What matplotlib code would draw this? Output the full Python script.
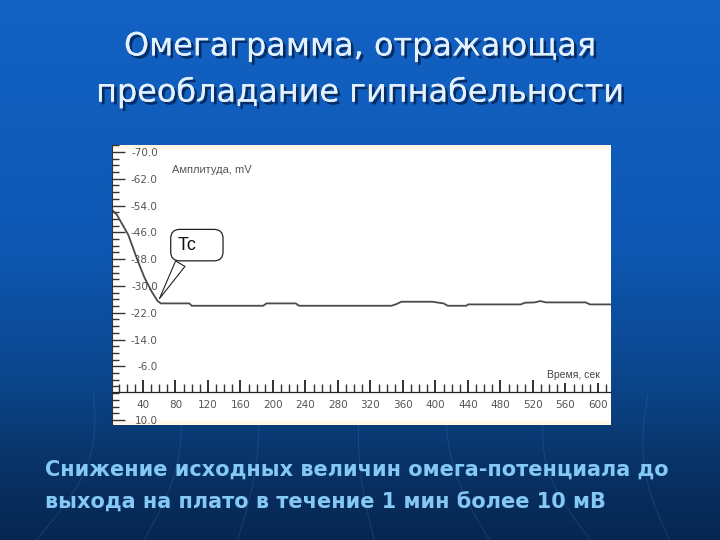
import numpy as np
import matplotlib
matplotlib.use("Agg")
import matplotlib.pyplot as plt
from matplotlib.ticker import MultipleLocator, FormatStrFormatter
import matplotlib.patheffects as pe

# ---- data ----
time_s = [2, 8, 22, 34, 42, 51, 58, 62, 97, 100, 188, 192, 228, 232, 346, 352, 358,
          396, 410, 415, 438, 440, 505, 510, 522, 529, 536, 585, 590, 617]
amp_mv = [-52.7, -51.2, -45.2, -37.2, -32.4, -28.2, -25.5, -24.8, -24.8, -24.1, -24.1,
          -24.8, -24.8, -24.1, -24.1, -24.6, -25.3, -25.3, -24.8, -24.1, -24.1, -24.5,
          -24.5, -25.0, -25.1, -25.5, -25.1, -25.1, -24.5, -24.5]
tc_point = (58.5, -25.5)
y_major = [-70, -62, -54, -46, -38, -30, -22, -14, -6, 10]
x_major = [40, 80, 120, 160, 200, 240, 280, 320, 360, 400, 440, 480, 520, 560, 600]

title = "Омегаграмма, отражающая\nпреобладание гипнабельности"
caption1 = "Снижение исходных величин омега-потенциала до"
caption2 = "выхода на плато в течение 1 мин более 10 мВ"

W, H = 720, 540
fig = plt.figure(figsize=(7.2, 5.4), dpi=100)

# ---- slide background ----
bg = fig.add_axes([0, 0, 1, 1])
bg.set_axis_off()
stops = np.array([[18, 98, 196], [14, 88, 180], [11, 70, 140], [9, 52, 105], [7, 38, 80]]) / 255
pos = np.array([0.0, 0.45, 0.7, 0.85, 1.0])
yy = np.linspace(0, 1, 300)
grad = np.stack([np.interp(yy, pos, stops[:, c]) for c in range(3)], axis=1)
img = np.repeat(grad[:, None, :], 10, axis=1)
bg.imshow(img, aspect='auto', extent=[0, 1, 0, 1], origin='upper')
t = np.linspace(0, 1, 50)
for x0, x1, bend in [(0.05, 0.13, 0.03), (0.2, 0.25, 0.02), (0.33, 0.36, 0.01), (0.52, 0.5, -0.01),
                     (0.68, 0.62, -0.02), (0.82, 0.76, -0.03), (0.93, 0.9, -0.02)]:
    xs = x0 + (x1 - x0) * t + bend * np.sin(np.pi * t)
    bg.plot(xs, 0.27 * t, color=(0.3, 0.5, 0.8), alpha=0.22, lw=0.8)
bg.set_xlim(0, 1)
bg.set_ylim(0, 1)

# title
fig.text(0.5, 1 - 70 / H, title, ha='center', va='center', color='#e4f1ff',
         fontsize=23, family='DejaVu Sans', linespacing=1.55,
         path_effects=[pe.withSimplePatchShadow(offset=(2, -2), shadow_rgbFace='#05204a', alpha=0.8),
                       pe.Normal()])
cap_kw = dict(ha='left', va='center', color='#84c9f6', fontsize=15,
              family='DejaVu Sans', fontweight='bold')
fig.text(45 / W, 1 - 470 / H, caption1, **cap_kw)
fig.text(45 / W, 1 - 503 / H, caption2, **cap_kw)

# ---- chart panel ----
px_l, px_r, px_t, px_b = 112, 611, 145, 425
ax = fig.add_axes([px_l / W, 1 - px_b / H, (px_r - px_l) / W, (px_b - px_t) / H])
ax.set_facecolor('white')
ax.set_xlim(1.85, 616)
ax.set_ylim(11.5, -72.09)

ax.axhspan(-72.09, -71.0, color='#fff6e4', lw=0)
ax.axhspan(10.3, 11.5, color='#fff8ea', lw=0)

ax.plot(time_s, amp_mv, color='#4a4a4a', lw=1.3)

for s in ['top', 'right']:
    ax.spines[s].set_visible(False)
ax.spines['left'].set_color('#333333')
ax.spines['left'].set_linewidth(0.8)
ax.spines['bottom'].set_position(('data', 1.6))
ax.spines['bottom'].set_color('#222222')
ax.spines['bottom'].set_linewidth(0.9)

ax.set_yticks(y_major)
ax.yaxis.set_minor_locator(MultipleLocator(2))
ax.yaxis.set_major_formatter(FormatStrFormatter('%.1f'))
ax.tick_params(axis='y', which='major', direction='in', length=9, width=1.0,
               color='#333333', labelsize=7.5, labelcolor='#555555', pad=-33)
ax.tick_params(axis='y', which='minor', direction='in', length=5, width=1.0, color='#333333')

ax.set_xticks(x_major)
ax.xaxis.set_minor_locator(MultipleLocator(10))
ax.tick_params(axis='x', which='major', direction='in', length=9, width=1.3,
               color='#222222', labelsize=7.5, labelcolor='#555555', pad=6)
ax.tick_params(axis='x', which='minor', direction='in', length=6, width=1.0, color='#333333')

ax.text(76, -64.5, "Амплитуда, mV", fontsize=8, color='#555555', ha='left', va='center',
        family='Liberation Sans')
ax.text(602, -3.5, "Время, сек", fontsize=7.5, color='#444444', ha='right', va='center',
        family='Liberation Sans', clip_on=False,
        bbox=dict(boxstyle='square,pad=0.35', fc='white', ec='none'))

ax.annotate("Tc    ", xy=tc_point, xytext=(83, -42.2), fontsize=13, ha='left', va='center',
            family='Liberation Sans', color='#111111',
            bbox=dict(boxstyle='round,pad=0.4,rounding_size=0.5', fc='white', ec='#222222', lw=0.9),
            arrowprops=dict(arrowstyle='wedge,tail_width=0.6,shrink_factor=0.5',
                            fc='white', ec='#222222', lw=0.8, relpos=(0.22, 0.0)))

fig.savefig('out.png', dpi=100)
